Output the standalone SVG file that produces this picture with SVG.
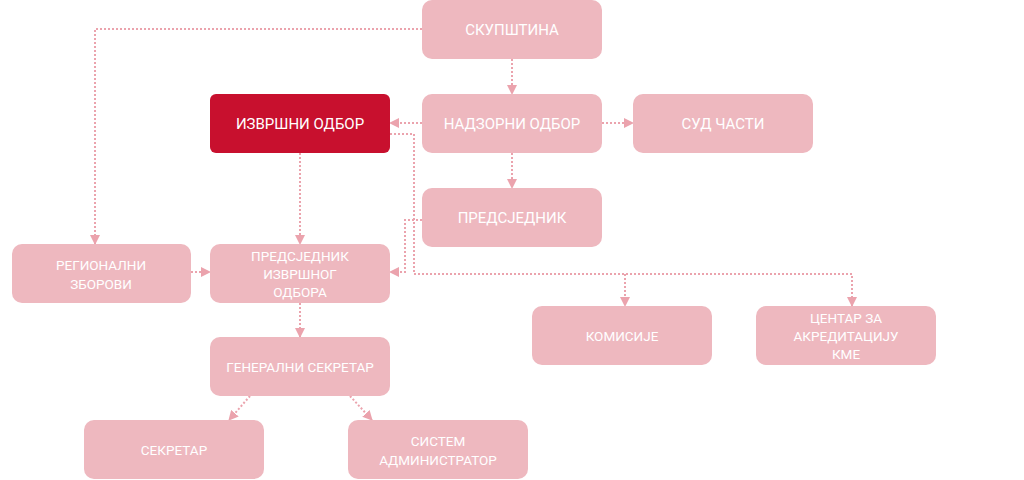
<svg xmlns="http://www.w3.org/2000/svg" width="1024" height="480" viewBox="0 0 1024 480">
<style>
.b{fill:#EEB8BF}.r{fill:#C8102E}
text{font-family:Roboto,"Liberation Sans",sans-serif;font-size:15px;fill:#fff;text-anchor:middle}
.s{font-size:13.5px}
.c path{fill:none;stroke:#EBA3AD;stroke-width:2;stroke-dasharray:2 2}
</style>
<defs><marker id="a" markerUnits="userSpaceOnUse" markerWidth="10" markerHeight="10" refX="9" refY="5" orient="auto"><path d="M0,0L10,5L0,10z" fill="#EBA3AD"/></marker></defs>
<g class="c">
<path d="M422,29H95V244" marker-end="url(#a)"/>
<path d="M512,59V94" marker-end="url(#a)"/>
<path d="M422,123H390" marker-end="url(#a)"/>
<path d="M602,123H633" marker-end="url(#a)"/>
<path d="M512,153V188" marker-end="url(#a)"/>
<path d="M390,134H414V274H852V306" marker-end="url(#a)"/>
<path d="M625,274V306" marker-end="url(#a)"/>
<path d="M422,220H405V272H390" marker-end="url(#a)"/>
<path d="M300,153V244" marker-end="url(#a)"/>
<path d="M191,272H210" marker-end="url(#a)"/>
<path d="M300,303V337" marker-end="url(#a)"/>
<path d="M250,396L229,420" marker-end="url(#a)"/>
<path d="M350,396L372,420" marker-end="url(#a)"/>
</g>
<g id="skupstina"><rect class="b" x="422" y="0" width="180" height="59" rx="10"/><text x="512" y="35">СКУПШТИНА</text></g>
<g id="izvrsni"><rect class="r" x="210" y="94" width="180" height="59" rx="6"/><text x="300" y="129">ИЗВРШНИ ОДБОР</text></g>
<g id="nadzorni"><rect class="b" x="422" y="94" width="180" height="59" rx="10"/><text x="512" y="129">НАДЗОРНИ ОДБОР</text></g>
<g id="sud"><rect class="b" x="633" y="94" width="180" height="59" rx="10"/><text x="723" y="129">СУД ЧАСТИ</text></g>
<g id="predsjednik"><rect class="b" x="422" y="188" width="180" height="59" rx="10"/><text x="512" y="223">ПРЕДСЈЕДНИК</text></g>
<g id="regionalni"><rect class="b" x="12" y="244" width="179" height="59" rx="10"/><text class="s" x="101" y="270">РЕГИОНАЛНИ</text><text class="s" x="101" y="289">ЗБОРОВИ</text></g>
<g id="pio"><rect class="b" x="210" y="244" width="180" height="59" rx="10"/><text class="s" x="300" y="261">ПРЕДСЈЕДНИК</text><text class="s" x="300" y="279">ИЗВРШНОГ</text><text class="s" x="300" y="297">ОДБОРА</text></g>
<g id="komisije"><rect class="b" x="532" y="306" width="180" height="59" rx="10"/><text class="s" x="622" y="341">КОМИСИЈЕ</text></g>
<g id="centar"><rect class="b" x="756" y="306" width="180" height="59" rx="10"/><text class="s" x="846" y="323">ЦЕНТАР ЗА</text><text class="s" x="846" y="341">АКРЕДИТАЦИЈУ</text><text class="s" x="846" y="359">КМЕ</text></g>
<g id="gensek"><rect class="b" x="210" y="337" width="180" height="59" rx="10"/><text class="s" x="300" y="372">ГЕНЕРАЛНИ СЕКРЕТАР</text></g>
<g id="sekretar"><rect class="b" x="84" y="420" width="180" height="59" rx="10"/><text class="s" x="174" y="455">СЕКРЕТАР</text></g>
<g id="sistem"><rect class="b" x="348" y="420" width="180" height="59" rx="10"/><text class="s" x="438" y="446">СИСТЕМ</text><text class="s" x="438" y="465">АДМИНИСТРАТОР</text></g>
</svg>
